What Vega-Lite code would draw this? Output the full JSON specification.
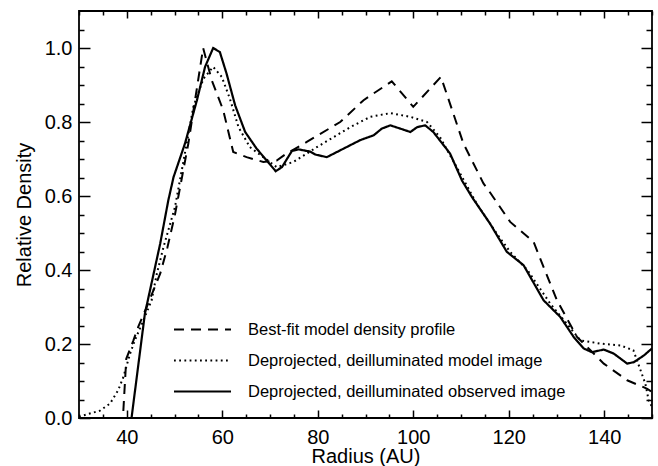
{
  "$schema": "https://vega.github.io/schema/vega-lite/v6.json",
  "width": 573,
  "height": 407,
  "autosize": {"type": "none"},
  "padding": {"left": 79, "top": 11, "right": 6, "bottom": 48},
  "background": "white",
  "config": {
    "view": {"stroke": "black", "strokeWidth": 1.8},
    "font": "Liberation Sans",
    "axis": {"domain": false, "grid": false, "tickColor": "black", "tickWidth": 1.5, "labelColor": "black", "titleColor": "black", "labelFontSize": 20, "titleFontSize": 20, "titleFontWeight": "normal", "labelOverlap": false, "labelFlush": false}
  },
  "datasets": {
    "profiles": [
      {"s": "Best-fit model density profile", "r": 30, "d": 0},
      {"s": "Best-fit model density profile", "r": 39.2, "d": 0},
      {"s": "Best-fit model density profile", "r": 39.9, "d": 0.16},
      {"s": "Best-fit model density profile", "r": 41.4, "d": 0.21},
      {"s": "Best-fit model density profile", "r": 42.4, "d": 0.246},
      {"s": "Best-fit model density profile", "r": 44.5, "d": 0.31},
      {"s": "Best-fit model density profile", "r": 47.0, "d": 0.39},
      {"s": "Best-fit model density profile", "r": 48.5, "d": 0.46},
      {"s": "Best-fit model density profile", "r": 50.1, "d": 0.55},
      {"s": "Best-fit model density profile", "r": 52.9, "d": 0.742},
      {"s": "Best-fit model density profile", "r": 54.3, "d": 0.859},
      {"s": "Best-fit model density profile", "r": 56.0, "d": 1.0},
      {"s": "Best-fit model density profile", "r": 57.8, "d": 0.913},
      {"s": "Best-fit model density profile", "r": 60.2, "d": 0.832},
      {"s": "Best-fit model density profile", "r": 62.3, "d": 0.719},
      {"s": "Best-fit model density profile", "r": 65.1, "d": 0.705},
      {"s": "Best-fit model density profile", "r": 68.6, "d": 0.692},
      {"s": "Best-fit model density profile", "r": 71.4, "d": 0.696},
      {"s": "Best-fit model density profile", "r": 73.5, "d": 0.715},
      {"s": "Best-fit model density profile", "r": 77.7, "d": 0.746},
      {"s": "Best-fit model density profile", "r": 84.7, "d": 0.8},
      {"s": "Best-fit model density profile", "r": 89.6, "d": 0.859},
      {"s": "Best-fit model density profile", "r": 95.5, "d": 0.91},
      {"s": "Best-fit model density profile", "r": 100.0, "d": 0.841},
      {"s": "Best-fit model density profile", "r": 105.8, "d": 0.922},
      {"s": "Best-fit model density profile", "r": 110.5, "d": 0.742},
      {"s": "Best-fit model density profile", "r": 114.7, "d": 0.634},
      {"s": "Best-fit model density profile", "r": 115.8, "d": 0.615},
      {"s": "Best-fit model density profile", "r": 120.3, "d": 0.53},
      {"s": "Best-fit model density profile", "r": 125.2, "d": 0.476},
      {"s": "Best-fit model density profile", "r": 127.3, "d": 0.408},
      {"s": "Best-fit model density profile", "r": 130.1, "d": 0.318},
      {"s": "Best-fit model density profile", "r": 134.3, "d": 0.219},
      {"s": "Best-fit model density profile", "r": 139.9, "d": 0.147},
      {"s": "Best-fit model density profile", "r": 144.8, "d": 0.102},
      {"s": "Best-fit model density profile", "r": 149.0, "d": 0.079},
      {"s": "Best-fit model density profile", "r": 150.0, "d": 0.07},
      {"s": "Deprojected, deilluminated model image", "r": 30, "d": 0.003},
      {"s": "Deprojected, deilluminated model image", "r": 30.9, "d": 0.007},
      {"s": "Deprojected, deilluminated model image", "r": 34.4, "d": 0.02},
      {"s": "Deprojected, deilluminated model image", "r": 36.5, "d": 0.039},
      {"s": "Deprojected, deilluminated model image", "r": 38.2, "d": 0.075},
      {"s": "Deprojected, deilluminated model image", "r": 39.3, "d": 0.111},
      {"s": "Deprojected, deilluminated model image", "r": 40.7, "d": 0.174},
      {"s": "Deprojected, deilluminated model image", "r": 41.7, "d": 0.21},
      {"s": "Deprojected, deilluminated model image", "r": 43.5, "d": 0.264},
      {"s": "Deprojected, deilluminated model image", "r": 45.2, "d": 0.318},
      {"s": "Deprojected, deilluminated model image", "r": 46.3, "d": 0.39},
      {"s": "Deprojected, deilluminated model image", "r": 47.7, "d": 0.462},
      {"s": "Deprojected, deilluminated model image", "r": 50.1, "d": 0.57},
      {"s": "Deprojected, deilluminated model image", "r": 51.9, "d": 0.696},
      {"s": "Deprojected, deilluminated model image", "r": 53.95, "d": 0.841},
      {"s": "Deprojected, deilluminated model image", "r": 56.05, "d": 0.917},
      {"s": "Deprojected, deilluminated model image", "r": 58.1, "d": 0.949},
      {"s": "Deprojected, deilluminated model image", "r": 59.9, "d": 0.922},
      {"s": "Deprojected, deilluminated model image", "r": 61.6, "d": 0.863},
      {"s": "Deprojected, deilluminated model image", "r": 63.4, "d": 0.786},
      {"s": "Deprojected, deilluminated model image", "r": 65.8, "d": 0.732},
      {"s": "Deprojected, deilluminated model image", "r": 68.6, "d": 0.705},
      {"s": "Deprojected, deilluminated model image", "r": 71.4, "d": 0.678},
      {"s": "Deprojected, deilluminated model image", "r": 74.9, "d": 0.692},
      {"s": "Deprojected, deilluminated model image", "r": 79.8, "d": 0.732},
      {"s": "Deprojected, deilluminated model image", "r": 86.8, "d": 0.786},
      {"s": "Deprojected, deilluminated model image", "r": 91.0, "d": 0.814},
      {"s": "Deprojected, deilluminated model image", "r": 95.2, "d": 0.824},
      {"s": "Deprojected, deilluminated model image", "r": 99.4, "d": 0.814},
      {"s": "Deprojected, deilluminated model image", "r": 102.9, "d": 0.8},
      {"s": "Deprojected, deilluminated model image", "r": 105.6, "d": 0.759},
      {"s": "Deprojected, deilluminated model image", "r": 109.1, "d": 0.678},
      {"s": "Deprojected, deilluminated model image", "r": 113.3, "d": 0.579},
      {"s": "Deprojected, deilluminated model image", "r": 117.5, "d": 0.498},
      {"s": "Deprojected, deilluminated model image", "r": 120.3, "d": 0.449},
      {"s": "Deprojected, deilluminated model image", "r": 123.9, "d": 0.4},
      {"s": "Deprojected, deilluminated model image", "r": 128.7, "d": 0.309},
      {"s": "Deprojected, deilluminated model image", "r": 135.0, "d": 0.21},
      {"s": "Deprojected, deilluminated model image", "r": 139.2, "d": 0.201},
      {"s": "Deprojected, deilluminated model image", "r": 143.4, "d": 0.196},
      {"s": "Deprojected, deilluminated model image", "r": 146.1, "d": 0.183},
      {"s": "Deprojected, deilluminated model image", "r": 147.6, "d": 0.129},
      {"s": "Deprojected, deilluminated model image", "r": 148.6, "d": 0.093},
      {"s": "Deprojected, deilluminated model image", "r": 149.3, "d": 0.048},
      {"s": "Deprojected, deilluminated model image", "r": 150.0, "d": 0.03},
      {"s": "Deprojected, deilluminated observed image", "r": 30, "d": 0},
      {"s": "Deprojected, deilluminated observed image", "r": 41.0, "d": 0},
      {"s": "Deprojected, deilluminated observed image", "r": 43.8, "d": 0.282},
      {"s": "Deprojected, deilluminated observed image", "r": 47.0, "d": 0.471},
      {"s": "Deprojected, deilluminated observed image", "r": 48.7, "d": 0.588},
      {"s": "Deprojected, deilluminated observed image", "r": 49.8, "d": 0.651},
      {"s": "Deprojected, deilluminated observed image", "r": 52.2, "d": 0.742},
      {"s": "Deprojected, deilluminated observed image", "r": 54.7, "d": 0.859},
      {"s": "Deprojected, deilluminated observed image", "r": 56.4, "d": 0.949},
      {"s": "Deprojected, deilluminated observed image", "r": 58.1, "d": 1.0},
      {"s": "Deprojected, deilluminated observed image", "r": 59.5, "d": 0.989},
      {"s": "Deprojected, deilluminated observed image", "r": 60.9, "d": 0.931},
      {"s": "Deprojected, deilluminated observed image", "r": 62.7, "d": 0.845},
      {"s": "Deprojected, deilluminated observed image", "r": 64.8, "d": 0.773},
      {"s": "Deprojected, deilluminated observed image", "r": 67.2, "d": 0.728},
      {"s": "Deprojected, deilluminated observed image", "r": 69.3, "d": 0.696},
      {"s": "Deprojected, deilluminated observed image", "r": 71.2, "d": 0.667},
      {"s": "Deprojected, deilluminated observed image", "r": 72.5, "d": 0.678},
      {"s": "Deprojected, deilluminated observed image", "r": 74.6, "d": 0.722},
      {"s": "Deprojected, deilluminated observed image", "r": 76.0, "d": 0.726},
      {"s": "Deprojected, deilluminated observed image", "r": 78.4, "d": 0.72},
      {"s": "Deprojected, deilluminated observed image", "r": 79.5, "d": 0.712},
      {"s": "Deprojected, deilluminated observed image", "r": 81.9, "d": 0.705},
      {"s": "Deprojected, deilluminated observed image", "r": 85.4, "d": 0.728},
      {"s": "Deprojected, deilluminated observed image", "r": 88.9, "d": 0.751},
      {"s": "Deprojected, deilluminated observed image", "r": 91.7, "d": 0.764},
      {"s": "Deprojected, deilluminated observed image", "r": 93.4, "d": 0.782},
      {"s": "Deprojected, deilluminated observed image", "r": 95.2, "d": 0.791},
      {"s": "Deprojected, deilluminated observed image", "r": 97.3, "d": 0.782},
      {"s": "Deprojected, deilluminated observed image", "r": 99.4, "d": 0.773},
      {"s": "Deprojected, deilluminated observed image", "r": 100.8, "d": 0.786},
      {"s": "Deprojected, deilluminated observed image", "r": 102.5, "d": 0.791},
      {"s": "Deprojected, deilluminated observed image", "r": 104.2, "d": 0.773},
      {"s": "Deprojected, deilluminated observed image", "r": 107.7, "d": 0.715},
      {"s": "Deprojected, deilluminated observed image", "r": 110.2, "d": 0.642},
      {"s": "Deprojected, deilluminated observed image", "r": 112.3, "d": 0.597},
      {"s": "Deprojected, deilluminated observed image", "r": 116.1, "d": 0.525},
      {"s": "Deprojected, deilluminated observed image", "r": 119.6, "d": 0.449},
      {"s": "Deprojected, deilluminated observed image", "r": 123.1, "d": 0.413},
      {"s": "Deprojected, deilluminated observed image", "r": 127.3, "d": 0.318},
      {"s": "Deprojected, deilluminated observed image", "r": 130.8, "d": 0.273},
      {"s": "Deprojected, deilluminated observed image", "r": 133.6, "d": 0.219},
      {"s": "Deprojected, deilluminated observed image", "r": 135.7, "d": 0.188},
      {"s": "Deprojected, deilluminated observed image", "r": 137.4, "d": 0.178},
      {"s": "Deprojected, deilluminated observed image", "r": 139.9, "d": 0.185},
      {"s": "Deprojected, deilluminated observed image", "r": 142.0, "d": 0.174},
      {"s": "Deprojected, deilluminated observed image", "r": 144.8, "d": 0.147},
      {"s": "Deprojected, deilluminated observed image", "r": 146.2, "d": 0.151},
      {"s": "Deprojected, deilluminated observed image", "r": 148.3, "d": 0.169},
      {"s": "Deprojected, deilluminated observed image", "r": 150.0, "d": 0.188}
    ]
  },
  "data": {"name": "profiles"},
  "layer": [
    {
      "transform": [{"filter": "datum.s === 'Best-fit model density profile'"}],
      "mark": {"type": "line", "color": "black", "strokeWidth": 2, "clip": true},
      "encoding": {
        "x": {"field": "r", "type": "quantitative", "scale": {"domain": [30, 150], "nice": false, "zero": false},
          "axis": {"orient": "bottom", "title": "Radius (AU)", "values": [30,35,40,45,50,55,60,65,70,75,80,85,90,95,100,105,110,115,120,125,130,135,140,145,150],
            "labelExpr": "datum.value % 20 === 0 ? datum.label : ''",
            "tickSize": {"condition": {"test": "datum.value % 20 === 0", "value": -8}, "value": -4},
            "labelPadding": 17, "titlePadding": -5}},
        "y": {"field": "d", "type": "quantitative", "scale": {"domain": [0, 1.1], "nice": false, "zero": false},
          "axis": {"orient": "left", "title": "Relative Density", "format": ".1f", "values": [0,0.05,0.1,0.15,0.2,0.25,0.3,0.35,0.4,0.45,0.5,0.55,0.6,0.65,0.7,0.75,0.8,0.85,0.9,0.95,1.0,1.05],
            "labelExpr": "round(datum.value*100) % 20 === 0 ? datum.label : ''",
            "tickSize": {"condition": {"test": "round(datum.value*100) % 20 === 0", "value": -11}, "value": -5},
            "labelPadding": 18, "titlePadding": 10}},
        "strokeDash": {"field": "s", "type": "nominal",
          "scale": {"domain": ["Best-fit model density profile", "Deprojected, deilluminated model image", "Deprojected, deilluminated observed image"], "range": [[10, 7], [1.8, 3.4], [1, 0]]},
          "legend": {"orient": "none", "legendX": 113, "legendY": 308, "title": null, "symbolType": "M-3,0H3", "symbolSize": 361, "symbolStrokeWidth": 2, "symbolStrokeColor": "black", "symbolFillColor": "transparent", "labelFontSize": 16.5, "labelColor": "black", "labelLimit": 0, "labelOffset": 35, "rowPadding": 12, "padding": 0}}
      }
    },
    {
      "transform": [{"filter": "datum.s === 'Deprojected, deilluminated model image'"}],
      "mark": {"type": "line", "color": "black", "strokeWidth": 2, "clip": true},
      "encoding": {
        "x": {"field": "r", "type": "quantitative", "scale": {"domain": [30, 150], "nice": false, "zero": false},
          "axis": {"orient": "top", "title": null, "labels": false, "values": [30,35,40,45,50,55,60,65,70,75,80,85,90,95,100,105,110,115,120,125,130,135,140,145,150],
            "tickSize": {"condition": {"test": "datum.value % 20 === 0", "value": -7}, "value": -4}}},
        "y": {"field": "d", "type": "quantitative", "scale": {"domain": [0, 1.1], "nice": false, "zero": false},
          "axis": {"orient": "right", "title": null, "labels": false, "values": [0,0.05,0.1,0.15,0.2,0.25,0.3,0.35,0.4,0.45,0.5,0.55,0.6,0.65,0.7,0.75,0.8,0.85,0.9,0.95,1.0,1.05],
            "tickSize": {"condition": {"test": "round(datum.value*100) % 20 === 0", "value": -11}, "value": -6}}},
        "strokeDash": {"field": "s", "type": "nominal"}
      }
    },
    {
      "transform": [{"filter": "datum.s === 'Deprojected, deilluminated observed image'"}],
      "mark": {"type": "line", "color": "black", "strokeWidth": 2.2, "clip": true},
      "encoding": {
        "x": {"field": "r", "type": "quantitative", "axis": null},
        "y": {"field": "d", "type": "quantitative", "axis": null},
        "strokeDash": {"field": "s", "type": "nominal"}
      }
    }
  ],
  "resolve": {"axis": {"x": "independent", "y": "independent"}}
}
